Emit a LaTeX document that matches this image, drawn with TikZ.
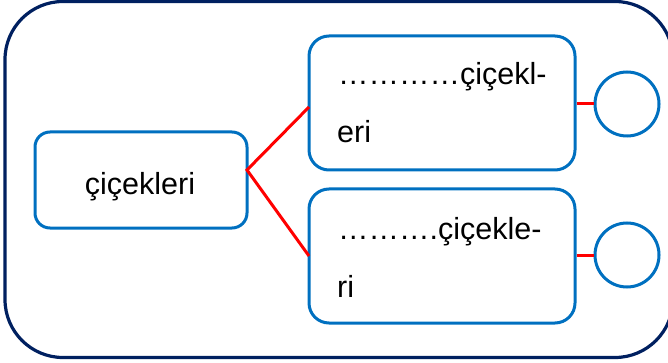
\documentclass[tikz,border=0pt]{standalone}
\usepackage{fontspec}
\setmainfont{Liberation Sans}
\definecolor{navy}{RGB}{0,32,96}
\definecolor{boxblue}{RGB}{0,112,192}
\begin{document}
\begin{tikzpicture}[x=1pt,y=-1pt,
  frame/.style={draw=navy, line width=3.2pt, rounded corners=58pt, minimum width=668pt, minimum height=356pt, inner sep=0pt},
  box/.style={draw=boxblue, line width=3pt, inner sep=0pt},
  ring/.style={draw=boxblue, line width=3pt, circle, minimum size=64pt, inner sep=0pt},
  link/.style={draw=red, line width=3pt},
  txt/.style={font=\fontsize{30.5}{36}\selectfont, inner sep=0pt, anchor=base west}
]
\useasboundingbox (0,0) rectangle (668,363);
\node[frame] (fr) at (339,179.5) {};
% left box
\node[box, rounded corners=15pt, minimum width=212pt, minimum height=96pt] (lb) at (141,180) {};
\node[txt, anchor=base] (lbt) at (140,195) {çiçekleri};
% right boxes
\node[box, rounded corners=20pt, minimum width=266pt, minimum height=134pt] (tb) at (442,103) {};
\node[box, rounded corners=20pt, minimum width=266pt, minimum height=134pt] (bb) at (442,256) {};
\node[txt] (tb1) at (338,85) {…………çiçekl-};
\node[txt] (tb2) at (337,143) {eri};
\node[txt] (bb1) at (338,239) {……….çiçekle-};
\node[txt] (bb2) at (337,297) {ri};
% circles
\node[ring] (c1) at (627,104) {};
\node[ring] (c2) at (627,255) {};
% connectors
\coordinate (j) at (247,170);
\coordinate (ta) at (309,107);
\coordinate (ba) at (309,256);
\draw[link] (ta) -- (j) -- (ba);
\draw[link] (c1.west -| tb.east) -- (c1.west);
\draw[link] (c2.west -| bb.east) -- (c2.west);
\end{tikzpicture}
\end{document}
